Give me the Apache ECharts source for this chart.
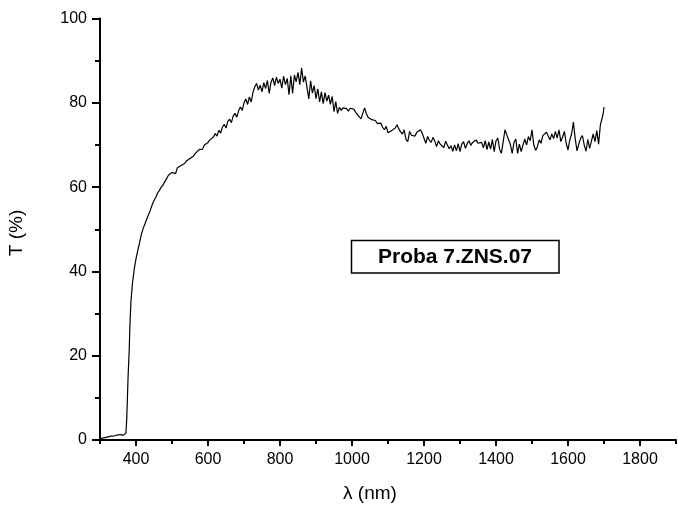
<!DOCTYPE html>
<html>
<head>
<meta charset="utf-8">
<script src="https://cdn.jsdelivr.net/npm/echarts@6/dist/echarts.min.js"></script>
<style>
html,body{margin:0;padding:0;background:#fff;}
#chart{width:678px;height:507px;}
</style>
</head>
<body>
<div id="chart"></div>
<script>
// Wavelength (nm)
var wavelength = [
300,310,320,330,340,350,358,364,369,372,374,376,378,381,383,386,390,395,
400,405,410,415,420,425,430,435,440,445,450,455,460,465,470,475,480,485,490,495,
500,505,510,515,520,525,530,535,540,545,550,555,560,565,570,575,580,585,590,595,
600,605,610,615,620,625,630,635,640,645,650,655,660,665,670,675,680,685,690,695,
700,705,710,715,720,725,730,735,740,745,750,755,760,765,770,775,780,785,790,795,
800,805,810,815,820,825,830,835,840,845,850,855,860,865,870,875,880,885,890,895,
900,905,910,915,920,925,930,935,940,945,950,955,960,965,970,975,980,985,990,995,
1000,1005,1010,1015,1020,1025,1030,1035,1040,1045,1050,1055,1060,1065,1070,1075,1080,1085,1090,1095,
1100,1105,1110,1115,1120,1125,1130,1135,1140,1145,1150,1155,1160,1165,1170,1175,1180,1185,1190,1195,
1200,1205,1210,1215,1220,1225,1230,1235,1240,1245,1250,1255,1260,1265,1270,1275,1280,1285,1290,1295,
1300,1305,1310,1315,1320,1325,1330,1335,1340,1345,1350,1355,1360,1365,1370,1375,1380,1385,1390,1395,
1400,1405,1410,1415,1420,1425,1430,1435,1440,1445,1450,1455,1460,1465,1470,1475,1480,1485,1490,1495,
1500,1505,1510,1515,1520,1525,1530,1535,1540,1545,1550,1555,1560,1565,1570,1575,1580,1585,1590,1595,
1600,1605,1610,1615,1620,1625,1630,1635,1640,1645,1650,1655,1660,1665,1670,1675,1680,1685,1690,1695,
1698,1700
];
// Transmittance T (%)
var transmittance = [
0.3,0.5,0.7,0.9,1.0,1.2,1.3,1.1,0.9,1.6,4.5,9.5,15,21,27,33,37,40.5,
43.0,45.0,46.8,48.8,50.2,51.3,52.5,53.5,54.6,55.8,56.8,57.6,58.6,59.2,60.0,60.5,61.3,62.0,62.8,62.4,
63.5,63.9,63.2,64.6,64.2,65.1,64.8,65.6,66.2,65.8,66.8,66.5,67.4,68.0,67.6,68.9,69.3,69.0,70.0,69.6,
70.6,71.2,70.8,71.9,72.7,72.1,73.5,72.8,74.2,74.9,74.0,75.6,76.1,75.3,76.9,77.5,76.6,78.1,79.0,78.2,
80.0,80.9,79.6,81.4,80.2,82.5,83.8,84.6,83.0,84.2,82.6,84.8,83.4,85.3,82.2,84.9,85.9,84.1,86.1,84.6,
85.6,83.5,86.3,84.3,85.8,81.9,86.4,82.2,86.6,85.0,87.2,84.3,88.3,84.9,86.4,83.6,80.9,85.2,82.3,84.1,
81.0,83.3,80.2,82.6,79.8,82.4,80.4,81.8,79.6,81.5,77.9,80.3,77.5,78.9,78.2,78.8,78.4,78.6,78.0,78.7,
78.3,78.5,77.8,77.2,77.0,76.2,77.5,78.8,77.4,76.5,76.4,76.0,75.6,75.8,75.1,74.7,75.2,74.2,73.6,74.4,
72.9,72.5,73.4,73.0,74.0,74.8,73.8,73.1,72.6,73.6,71.3,70.8,73.2,72.3,72.6,72.1,73.0,73.4,73.6,72.8,
71.6,70.4,72.0,71.1,70.6,71.8,70.9,69.6,71.0,70.2,70.6,69.4,70.9,70.5,69.1,69.8,68.5,70.0,68.6,70.3,
68.4,70.2,70.8,69.2,70.3,71.0,69.9,70.6,70.2,71.2,70.4,70.1,70.6,69.3,71.0,68.9,70.7,69.0,71.3,68.4,
71.0,71.6,69.0,68.0,70.8,73.6,72.4,72.8,70.1,68.0,70.6,71.4,68.0,70.2,68.4,70.0,71.4,70.0,72.0,71.0,
73.6,70.0,68.7,69.6,71.2,70.4,72.2,71.8,73.0,72.1,71.2,72.6,71.5,73.2,71.6,73.6,70.8,71.9,73.2,70.4,
68.8,71.2,72.6,75.4,71.5,68.6,70.2,71.6,72.2,70.0,68.5,71.3,69.2,68.8,72.6,70.8,73.4,70.2,74.8,76.4,
77.6,79.0
];
var xMajorTicks = [400,600,800,1000,1200,1400,1600,1800];
var xMinorTicks = [300,500,700,900,1100,1300,1500,1700,1900];
var boxLabel = 'Proba 7.ZNS.07';
var xTitle = '\u03bb (nm)';
var yTitle = 'T (%)';

var seriesData = wavelength.map(function(w, i){ return [w, transmittance[i]]; });
var FONT = '"Liberation Sans", Arial, sans-serif';
var plain = function(v){ return String(v); };

var chart = echarts.init(document.getElementById('chart'), null, {renderer:'canvas'});
chart.setOption({
  animation:false,
  backgroundColor:'#fff',
  grid:{left:100, right:2, top:18.5, bottom:67, containLabel:false},
  xAxis:[{
    type:'value', min:300, max:1900, position:'bottom',
    axisLine:{show:true, onZero:false, lineStyle:{color:'#000', width:2}},
    axisTick:{show:true, length:6, lineStyle:{color:'#000', width:2}, customValues:xMajorTicks},
    axisLabel:{show:true, margin:12, color:'#000', fontSize:16, fontFamily:FONT, customValues:xMajorTicks, formatter:plain},
    splitLine:{show:false}
  },{
    type:'value', min:300, max:1900, position:'bottom', gridIndex:0,
    axisLine:{show:false},
    axisTick:{show:true, length:4, lineStyle:{color:'#000', width:2}, customValues:xMinorTicks},
    axisLabel:{show:false},
    splitLine:{show:false}
  }],
  yAxis:{
    type:'value', min:0, max:100, interval:20,
    axisLine:{show:true, onZero:false, lineStyle:{color:'#000', width:2}},
    axisTick:{show:true, length:8, lineStyle:{color:'#000', width:2}},
    minorTick:{show:true, splitNumber:2, length:5, lineStyle:{color:'#000', width:2}},
    axisLabel:{margin:13, color:'#000', fontSize:16, fontFamily:FONT, formatter:plain},
    splitLine:{show:false}
  },
  series:[{
    type:'line', xAxisIndex:0, data:seriesData, showSymbol:false,
    lineStyle:{color:'#000', width:1.2}, clip:false
  }],
  graphic:[
    {type:'rect', shape:{x:351.5, y:240.5, width:207.5, height:32.5},
     style:{fill:'#fff', stroke:'#000', lineWidth:1.5}},
    {type:'text', x:455, y:257, style:{text:boxLabel, font:'bold 21px ' + FONT, fill:'#000', textAlign:'center', textVerticalAlign:'middle'}},
    {type:'text', x:370, y:494, style:{text:xTitle, font:'19px ' + FONT, fill:'#000', textAlign:'center', textVerticalAlign:'middle'}},
    {type:'text', x:17, y:233, rotation:Math.PI/2, style:{text:yTitle, font:'19px ' + FONT, fill:'#000', textAlign:'center', textVerticalAlign:'middle'}}
  ]
});
</script>
</body>
</html>
